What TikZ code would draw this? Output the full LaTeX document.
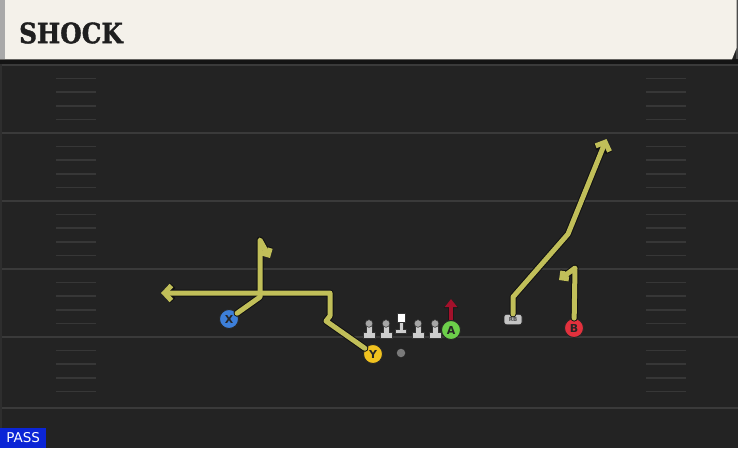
\documentclass[tikz,border=0pt]{standalone}
\usepackage{fontspec}
\setmainfont{DejaVu Sans}
\newfontfamily\titlefont[BoldFeatures={FakeBold=1.5}]{DejaVu Serif}
\usetikzlibrary{arrows.meta}
\definecolor{fieldbg}{HTML}{232323}
\definecolor{headercream}{HTML}{F4F1EA}
\definecolor{headerstrip}{HTML}{A9A9A9}
\definecolor{fieldline}{HTML}{3A3A3A}
\definecolor{hashcol}{HTML}{373737}
\definecolor{routeolive}{HTML}{C1BF59}
\definecolor{routeedge}{HTML}{111111}
\definecolor{xblue}{HTML}{3D7FD9}
\definecolor{yyellow}{HTML}{F1C21F}
\definecolor{agreen}{HTML}{6CCF4A}
\definecolor{bred}{HTML}{E2313D}
\definecolor{ared}{HTML}{A3112B}
\definecolor{ballgray}{HTML}{7A7A7A}
\definecolor{rbgray}{HTML}{C4C4C4}
\definecolor{passblue}{HTML}{0B25D6}
\definecolor{linebody}{HTML}{CDCDCD}
\definecolor{linehead}{HTML}{A6A6A6}
\begin{document}
\begin{tikzpicture}[x=1pt,y=-1pt,
  fieldrule/.style={draw=fieldline, line width=1.8pt},
  hashmark/.style={draw=hashcol, line width=1.6pt},
  player/.style={circle, minimum size=19pt, inner sep=0pt, draw=black!85, line width=0.9pt,
    font=\bfseries\fontsize{11}{11}\selectfont, text=black!85},
  routeback/.style={draw=routeedge, line width=7pt, line join=round, line cap=round},
  routefront/.style={draw=routeolive, line width=5pt, line join=round, line cap=round},
  tipbarb/.style={-{Straight Barb[length=7pt,width=15pt]}},
  tiphook/.style={-{Straight Barb[length=5pt,width=10pt]}},
  lmbody/.style={fill=linebody, draw=black!80, line width=0.6pt},
  lmhead/.style={fill=linehead, draw=black!80, line width=0.6pt}
]
\useasboundingbox (0,0) rectangle (738,448);
\fill[fieldbg] (0,0) rectangle (738,448);
% header
\fill[black!92] (0,59) rectangle (738,64);
\fill[gray!60!black] (736,0) rectangle (738,59);
\fill[headercream] (0,0) -- (736.5,0) -- (736.5,48) -- (732,59.3) -- (0,59.3) -- cycle;
\fill[headerstrip] (0,0) rectangle (5,59.3);
\node[anchor=west, inner sep=0pt, text=black!88, font=\titlefont\bfseries\fontsize{28}{28}\selectfont] (title) at (19,33) {\scalebox{0.88}[1]{SHOCK}};
% field
\draw[draw=fieldline!80!black, line width=2pt] (1,64) -- (1,448);
\foreach \yy in {65,133,201,269,337,408} \draw[fieldrule] (2,\yy) -- (738,\yy);
\foreach \yy in {65,133,201,269,337} {
  \foreach \k in {1,2,3,4} {
    \draw[hashmark] (56,\yy+13.6*\k) -- (96,\yy+13.6*\k);
    \draw[hashmark] (646,\yy+13.6*\k) -- (686,\yy+13.6*\k);
  }
}
% players
\node[player, fill=xblue] (X) at (229,319) {X};
\node[player, fill=yyellow] (Y) at (373,354) {Y};
\node[player, fill=agreen] (A) at (451,330) {A};
\node[player, fill=bred] (B) at (574,328) {B};
\node[draw=black!85, fill=rbgray, rounded corners=2.5pt, minimum width=18pt, minimum height=10.5pt,
  inner sep=0pt, font=\bfseries\fontsize{5.5}{5.5}\selectfont, text=black!70, line width=0.7pt] (RB) at (513,319.5) {RB};
\node[circle, fill=ballgray, minimum size=8.5pt, inner sep=0pt] (ball) at (401,353) {};
% linemen
\foreach \lx in {369,386,418,435} {
  \filldraw[lmbody] (\lx-2.8,325) -- (\lx-2.8,332.5) -- (\lx-5.8,332.5) -- (\lx-5.8,338)
     -- (\lx+5.8,338) -- (\lx+5.8,332.5) -- (\lx+2.8,332.5) -- (\lx+2.8,325) -- cycle;
  \filldraw[lmhead] (\lx,323.5) circle (3.8pt);
}
\filldraw[lmbody] (399,322.5) -- (399,329) -- (395.5,329) -- (395.5,333.5) -- (406.5,333.5)
   -- (406.5,329) -- (403,329) -- (403,322.5) -- cycle;
\filldraw[fill=white, draw=black!80, line width=0.6pt] (397,313.5) rectangle (405.5,322.5);
% route points
\coordinate (y1) at (326,321);
\coordinate (y2) at (330,316);
\coordinate (y3) at (330,293);
\coordinate (y4) at (161,293);
\coordinate (x1) at (260,297);
\coordinate (x2) at (260,240);
\coordinate (x3) at (270,258);
\coordinate (r1) at (513,297);
\coordinate (r2) at (568,234);
\coordinate (r3) at (606.5,139);
\coordinate (b1) at (575,268);
\coordinate (b2) at (559,280);
\coordinate (a1) at (451,299);
% routes
\foreach \st in {routeback,routefront} {
  \draw[\st, tiphook] (X) -- (x1) -- (x2) -- (x3);
  \draw[\st, tipbarb] (Y) -- (y1) -- (y2) -- (y3) -- (y4);
  \draw[\st, tipbarb] (RB) -- (r1) -- (r2) -- (r3);
  \draw[\st, tiphook] (B) -- (b1) -- (b2);
}
\draw[draw=black!90, line width=5.5pt, -{Triangle[length=9pt,width=14pt]}] (A) -- (a1);
\draw[draw=ared, line width=4pt, -{Triangle[length=8pt,width=12pt]}] (A) -- (a1);
% pass label
\node[fill=passblue, text=white, anchor=south west, inner sep=0pt, minimum width=46pt,
  minimum height=20pt, font=\fontsize{13.5}{13.5}\selectfont] (pass) at (0,448) {PASS};
\end{tikzpicture}
\end{document}
